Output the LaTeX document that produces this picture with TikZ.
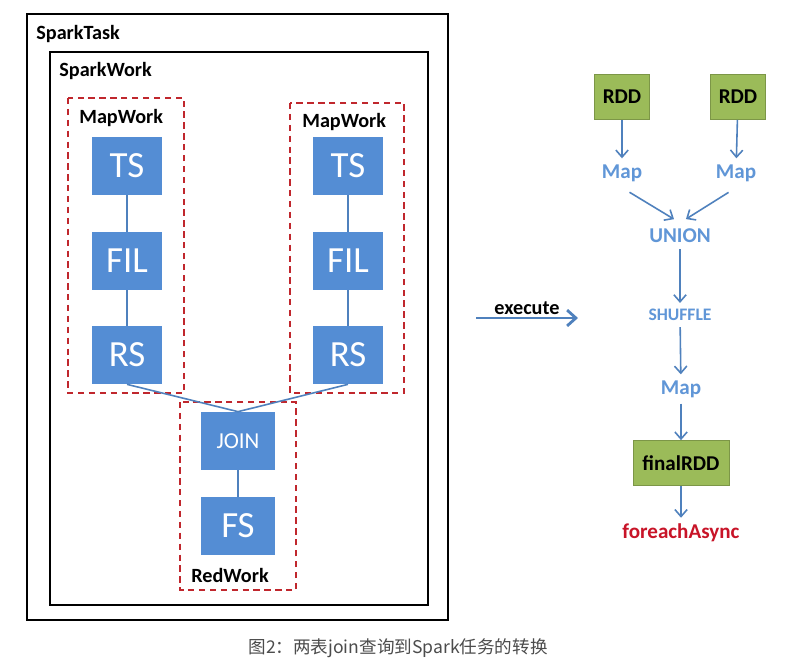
\documentclass[tikz,border=0pt]{standalone}
\usepackage{fontspec}
\setmainfont{Carlito}
\newfontfamily\cjk{Noto Sans CJK SC}
\usetikzlibrary{positioning,arrows.meta}
\definecolor{opblue}{RGB}{84,141,212}
\definecolor{rddgreen}{RGB}{155,187,89}
\definecolor{workred}{RGB}{192,39,45}
\definecolor{flowblue}{RGB}{79,129,189}
\definecolor{txtblue}{RGB}{96,150,215}
\definecolor{asyncred}{RGB}{200,20,40}

\begin{document}
\begin{tikzpicture}[x=0.02cm,y=-0.02cm,
  lbl/.style={inner sep=0pt, anchor=west, font=\bfseries\fontsize{11.5}{13}\selectfont},
  op/.style={fill=opblue, text=white, minimum width=1.42cm, minimum height=1.16cm, inner sep=0pt, font=\fontsize{21}{23}\selectfont},
  rdd/.style={fill=rddgreen, draw=rddgreen!80!black, line width=0.4pt, minimum width=1.1cm, minimum height=0.9cm, inner sep=0pt, font=\bfseries\fontsize{12}{14}\selectfont},
  flow/.style={text=txtblue, font=\bfseries\fontsize{12}{14}\selectfont},
  conn/.style={draw=flowblue, line width=0.9pt},
  arr/.style={draw=flowblue, line width=0.9pt, -{Straight Barb[length=4pt,width=7pt]}},
  frame/.style={draw=black, line width=1.2pt},
  work/.style={draw=workred, line width=1.1pt, dash pattern=on 3.6pt off 2.6pt}]
\fill[white] (0,0) rectangle (787,670);
\useasboundingbox (0,0) rectangle (787,670);
% containers
\draw[frame] (27,14) rectangle (448,620);
\draw[frame] (50,52) rectangle (428,605);
\draw[work] (68,98) rectangle (184,393);
\draw[work] (290,103) rectangle (404,393);
\draw[work] (180,402) rectangle (296,590);
\node[lbl] (tasklbl) at (36,34) {SparkTask};
\node[lbl] (worklbl) at (59,71) {SparkWork};
\node[lbl] (mapwl) at (79,118) {MapWork};
\node[lbl] (mapwr) at (302,122) {MapWork};
\node[lbl] (redw) at (191,575) {RedWork};
% operators
\node[op] (tsl) at (127,166) {TS};
\node[op] (fill) at (127,261) {FIL};
\node[op] (rsl) at (127,355) {RS};
\node[op] (tsr) at (348,166) {TS};
\node[op] (filr) at (348,261) {FIL};
\node[op] (rsr) at (348,355) {RS};
\node[op, minimum width=1.48cm, font=\fontsize{13}{15}\selectfont] (join) at (238,441) {JOIN};
\node[op, minimum width=1.48cm] (fs) at (238,526) {FS};
\foreach \i/\j in {tsl/fill,fill/rsl,tsr/filr,filr/rsr,join/fs}{\draw[conn] (\i) -- (\j);}
\draw[conn] (rsl.south) -- (join.north);
\draw[conn] (rsr.south) -- (join.north);
% execute
\coordinate (exa) at (476,318);
\coordinate (exb) at (578,318);
\draw[draw=flowblue, line width=1.6pt, -{Straight Barb[length=5pt,width=9pt]}] (exa) -- node[above=1pt, lbl, anchor=south] (exlbl) {execute} (exb);
% spark plan
\node[rdd] (rdda) at (622,97) {RDD};
\node[rdd] (rddb) at (738,97) {RDD};
\node[flow] (mapa) at (622,173) {Map};
\node[flow] (mapb) at (736,173) {Map};
\node[flow] (union) at (680,236) {UNION};
\node[flow, font=\bfseries\fontsize{10}{12}\selectfont] (shuffle) at (680,315) {SHUFFLE};
\node[flow] (mapc) at (681,389) {Map};
\node[rdd, minimum width=1.92cm] (final) at (681,463) {finalRDD};
\node[text=asyncred, font=\bfseries\fontsize{12}{14}\selectfont] (async) at (681,533) {foreachAsync};
\draw[arr] (rdda) -- (mapa);
\draw[arr] (rddb) -- (mapb);
\draw[arr, shorten <=5pt, shorten >=4pt] (mapa.south) -- (union.north);
\draw[arr, shorten <=5pt, shorten >=4pt] (mapb.south) -- (union.north);
\draw[arr] (union) -- (shuffle);
\draw[arr] (shuffle) -- (mapc);
\draw[arr] (mapc) -- (final);
\draw[arr] (final) -- (async);
% caption
\node[font=\cjk\fontsize{10}{12}\selectfont, text=black!70] (cap) at (398,648) {图2：两表join查询到Spark任务的转换};
\end{tikzpicture}
\end{document}
